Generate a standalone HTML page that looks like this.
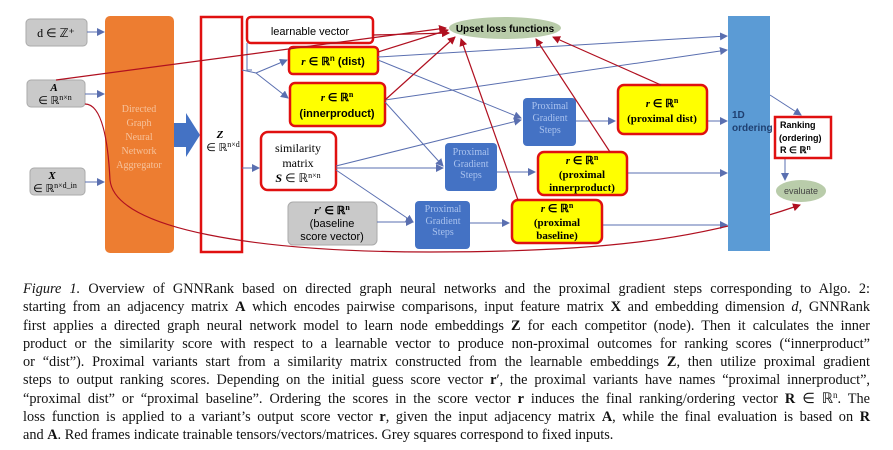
<!DOCTYPE html>
<html><head><meta charset="utf-8"><style>
body{margin:0;width:893px;height:450px;background:#fff;overflow:hidden;position:relative;font-family:"Liberation Sans",sans-serif}
.cap{position:absolute;left:23px;top:280px;width:847px;font-family:"Liberation Serif",serif;font-size:14.3px;color:#111}
.cap div{height:18.25px;line-height:18.25px;white-space:nowrap;text-align:justify;text-align-last:justify;overflow:visible}
.cap div.last{text-align-last:left}
.sp{font-size:9px;position:relative;top:-5px;line-height:0}
</style></head><body>
<svg width="893" height="270" style="position:absolute;left:0;top:0" font-family="Liberation Sans, sans-serif">
<defs>
<marker id="b" markerWidth="8" markerHeight="8" refX="7" refY="4" orient="auto" markerUnits="userSpaceOnUse"><path d="M0,0 L8,4 L0,8z" fill="#5a6fb0"/></marker>
<marker id="r" markerWidth="8" markerHeight="8" refX="7" refY="4" orient="auto" markerUnits="userSpaceOnUse"><path d="M0,0 L8,4 L0,8z" fill="#b01020"/></marker>
</defs>
<rect x="26" y="19" width="61" height="27" rx="4" fill="#c9c9c9" stroke="#aaa"/>
<text x="56" y="37" text-anchor="middle" font-family="Liberation Serif" font-size="12">d ∈ ℤ⁺</text>
<rect x="27" y="80" width="58" height="27" rx="4" fill="#c9c9c9" stroke="#aaa"/>
<text x="54" y="91" text-anchor="middle" font-family="Liberation Serif" font-size="11" font-weight="bold" font-style="italic">A</text>
<text x="55" y="104" text-anchor="middle" font-family="Liberation Serif" font-size="11">∈ ℝ<tspan font-size="8" dy="-4">n×n</tspan></text>
<rect x="30" y="168" width="55" height="27" rx="4" fill="#c9c9c9" stroke="#aaa"/>
<text x="52" y="179" text-anchor="middle" font-family="Liberation Serif" font-size="11" font-weight="bold" font-style="italic">X</text>
<text x="55" y="192" text-anchor="middle" font-family="Liberation Serif" font-size="11">∈ ℝ<tspan font-size="8" dy="-4">n×d_in</tspan></text>
<line x1="87" y1="32" x2="104" y2="32" stroke="#5a6fb0" marker-end="url(#b)"/>
<line x1="85" y1="94" x2="104" y2="94" stroke="#5a6fb0" marker-end="url(#b)"/>
<line x1="85" y1="182" x2="104" y2="182" stroke="#5a6fb0" marker-end="url(#b)"/>
<rect x="105" y="16" width="69" height="237" rx="5" fill="#ed7d31"/>
<text font-size="10" fill="#f6c29b" text-anchor="middle" font-family="Liberation Serif"><tspan x="139" y="112">Directed</tspan><tspan x="139" y="126">Graph</tspan><tspan x="139" y="140">Neural</tspan><tspan x="139" y="154">Network</tspan><tspan x="139" y="168">Aggregator</tspan></text>
<path d="M174,123 L186,123 L186,113 L200,135 L186,157 L186,147 L174,147z" fill="#4472c4"/>
<rect x="201" y="17" width="41" height="235" fill="#fff" stroke="#e01010" stroke-width="2.5"/>
<text x="220" y="138" text-anchor="middle" font-family="Liberation Serif" font-size="11" font-weight="bold" font-style="italic">Z</text>
<text x="223" y="151" text-anchor="middle" font-family="Liberation Serif" font-size="11">∈ ℝ<tspan font-size="8" dy="-4">n×d</tspan></text>
<rect x="247" y="17" width="126" height="26" rx="4" fill="#fff" stroke="#e01010" stroke-width="2.5"/>
<text x="310" y="35" text-anchor="middle" font-size="11">learnable vector</text>
<polyline points="247,43 247,70 252,70" fill="none" stroke="#5a6fb0"/>
<line x1="242" y1="70" x2="256" y2="73" stroke="#5a6fb0"/>
<line x1="256" y1="73" x2="287" y2="60" stroke="#5a6fb0" marker-end="url(#b)"/>
<line x1="256" y1="73" x2="288" y2="98" stroke="#5a6fb0" marker-end="url(#b)"/>
<line x1="242" y1="168" x2="259" y2="168" stroke="#5a6fb0" marker-end="url(#b)"/>
<rect x="289" y="47" width="89" height="27" rx="4" fill="#ffff00" stroke="#e01010" stroke-width="2.5"/>
<text x="333" y="65" text-anchor="middle" font-size="11" font-weight="bold"><tspan font-family="Liberation Serif" font-style="italic">r</tspan> ∈ ℝ<tspan font-size="8" dy="-4">n</tspan><tspan dy="4"> (dist)</tspan></text>
<rect x="290" y="83" width="95" height="43" rx="5" fill="#ffff00" stroke="#e01010" stroke-width="2.5"/>
<text x="337" y="101" text-anchor="middle" font-size="11" font-weight="bold" font-family="Liberation Serif"><tspan font-style="italic">r</tspan> ∈ ℝ<tspan font-size="8" dy="-4">n</tspan></text>
<text x="337" y="117" text-anchor="middle" font-size="11" font-weight="bold">(innerproduct)</text>
<rect x="261" y="132" width="75" height="58" rx="7" fill="#fff" stroke="#e01010" stroke-width="2.5"/>
<text text-anchor="middle" font-family="Liberation Serif" font-size="12"><tspan x="298" y="152">similarity</tspan><tspan x="298" y="167">matrix</tspan><tspan x="298" y="182"><tspan font-weight="bold" font-style="italic">S</tspan> ∈ ℝ<tspan font-size="8" dy="-4">n×n</tspan></tspan></text>
<rect x="288" y="202" width="89" height="43" rx="5" fill="#c9c9c9" stroke="#aaa"/>
<text x="332" y="214" text-anchor="middle" font-family="Liberation Serif" font-size="11" font-weight="bold"><tspan font-style="italic">r′</tspan> ∈ ℝ<tspan font-size="8" dy="-4">n</tspan></text>
<text text-anchor="middle" font-size="11"><tspan x="332" y="227">(baseline</tspan><tspan x="332" y="240">score vector)</tspan></text>
<g stroke="#5a6fb0" fill="none">
<line x1="378" y1="57" x2="727" y2="36" marker-end="url(#b)"/>
<line x1="378" y1="60" x2="521" y2="118" marker-end="url(#b)"/>
<line x1="385" y1="100" x2="727" y2="50" marker-end="url(#b)"/>
<line x1="385" y1="102" x2="443" y2="166" marker-end="url(#b)"/>
<line x1="336" y1="166" x2="521" y2="120" marker-end="url(#b)"/>
<line x1="336" y1="168" x2="443" y2="168" marker-end="url(#b)"/>
<line x1="336" y1="170" x2="413" y2="222" marker-end="url(#b)"/>
<line x1="377" y1="222" x2="413" y2="222" marker-end="url(#b)"/>
<line x1="576" y1="121" x2="615" y2="121" marker-end="url(#b)"/>
<line x1="497" y1="172" x2="535" y2="172" marker-end="url(#b)"/>
<line x1="470" y1="223" x2="509" y2="223" marker-end="url(#b)"/>
<line x1="707" y1="121" x2="727" y2="121" marker-end="url(#b)"/>
<line x1="627" y1="173" x2="727" y2="173" marker-end="url(#b)"/>
<line x1="602" y1="225" x2="727" y2="225" marker-end="url(#b)"/>
<line x1="770" y1="95" x2="801" y2="115" marker-end="url(#b)"/>
<line x1="785" y1="158" x2="785" y2="180" marker-end="url(#b)"/>
</g>
<g font-family="Liberation Serif" font-size="10" fill="#a9c2ee" text-anchor="middle">
<rect x="523" y="98" width="53" height="48" rx="4" fill="#4472c4"/>
<text><tspan x="550" y="109">Proximal</tspan><tspan x="550" y="121">Gradient</tspan><tspan x="550" y="133">Steps</tspan></text>
<rect x="445" y="143" width="52" height="48" rx="4" fill="#4472c4"/>
<text><tspan x="471" y="155">Proximal</tspan><tspan x="471" y="167">Gradient</tspan><tspan x="471" y="178">Steps</tspan></text>
<rect x="415" y="201" width="55" height="48" rx="4" fill="#4472c4"/>
<text><tspan x="443" y="212">Proximal</tspan><tspan x="443" y="224">Gradient</tspan><tspan x="443" y="235">Steps</tspan></text>
</g>
<g font-family="Liberation Serif" font-size="11" font-weight="bold" text-anchor="middle">
<rect x="618" y="85" width="89" height="49" rx="6" fill="#ffff00" stroke="#e01010" stroke-width="2.5"/>
<text x="662" y="107"><tspan font-style="italic">r</tspan> ∈ ℝ<tspan font-size="8" dy="-4">n</tspan></text>
<text x="662" y="122">(proximal dist)</text>
<rect x="538" y="152" width="89" height="43" rx="6" fill="#ffff00" stroke="#e01010" stroke-width="2.5"/>
<text x="582" y="164"><tspan font-style="italic">r</tspan> ∈ ℝ<tspan font-size="8" dy="-4">n</tspan></text>
<text x="582" y="178">(proximal</text><text x="582" y="191">innerproduct)</text>
<rect x="512" y="200" width="90" height="43" rx="6" fill="#ffff00" stroke="#e01010" stroke-width="2.5"/>
<text x="557" y="212"><tspan font-style="italic">r</tspan> ∈ ℝ<tspan font-size="8" dy="-4">n</tspan></text>
<text x="557" y="226">(proximal</text><text x="557" y="239">baseline)</text>
</g>
<ellipse cx="505" cy="28" rx="56" ry="11" fill="#b9ccaa"/>
<text x="505" y="32" text-anchor="middle" font-size="10" font-weight="bold">Upset loss functions</text>
<g stroke="#b01020" fill="none" stroke-width="1.2">
<line x1="56" y1="80" x2="446" y2="28" marker-end="url(#r)"/>
<line x1="378" y1="52" x2="448" y2="30" marker-end="url(#r)"/>
<line x1="373" y1="35" x2="449" y2="33" marker-end="url(#r)"/>
<line x1="385" y1="100" x2="455" y2="37" marker-end="url(#r)"/>
<line x1="518" y1="200" x2="461" y2="39" marker-end="url(#r)"/>
<line x1="610" y1="152" x2="536" y2="39" marker-end="url(#r)"/>
<line x1="661" y1="85" x2="553" y2="37" marker-end="url(#r)"/>
<path d="M85,104 C102,104 108,140 110,180 C115,230 260,252 430,252 C600,252 700,240 800,205" marker-end="url(#r)"/>
</g>
<rect x="728" y="16" width="42" height="235" fill="#5b9bd5"/>
<text font-size="10" font-weight="bold" fill="#1f3f70"><tspan x="732" y="118">1D</tspan><tspan x="732" y="131">ordering</tspan></text>
<rect x="775" y="117" width="56" height="41" fill="#fff" stroke="#e01010" stroke-width="2.5"/>
<text font-size="9" font-weight="bold"><tspan x="780" y="128">Ranking</tspan><tspan x="779" y="141">(ordering)</tspan><tspan x="780" y="153">R ∈ ℝ<tspan font-size="7" dy="-3">n</tspan></tspan></text>
<ellipse cx="801" cy="191" rx="25" ry="11" fill="#b9ccaa"/>
<text x="801" y="194" text-anchor="middle" font-size="9" fill="#444">evaluate</text>
</svg>
<div class="cap">
<div><i>Figure 1.</i> Overview of GNNRank based on directed graph neural networks and the proximal gradient steps corresponding to Algo. 2:</div>
<div>starting from an adjacency matrix <b>A</b> which encodes pairwise comparisons, input feature matrix <b>X</b> and embedding dimension <i>d</i>, GNNRank</div>
<div>first applies a directed graph neural network model to learn node embeddings <b>Z</b> for each competitor (node). Then it calculates the inner</div>
<div>product or the similarity score with respect to a learnable vector to produce non-proximal outcomes for ranking scores (“innerproduct”</div>
<div>or “dist”). Proximal variants start from a similarity matrix constructed from the learnable embeddings <b>Z</b>, then utilize proximal gradient</div>
<div>steps to output ranking scores. Depending on the initial guess score vector <b>r</b>′, the proximal variants have names “proximal innerproduct”,</div>
<div>“proximal dist” or “proximal baseline”. Ordering the scores in the score vector <b>r</b> induces the final ranking/ordering vector <b>R</b> ∈ ℝ<span class="sp">n</span>. The</div>
<div>loss function is applied to a variant’s output score vector <b>r</b>, given the input adjacency matrix <b>A</b>, while the final evaluation is based on <b>R</b></div>
<div class="last">and <b>A</b>. Red frames indicate trainable tensors/vectors/matrices. Grey squares correspond to fixed inputs.</div>
</div>
</body></html>
